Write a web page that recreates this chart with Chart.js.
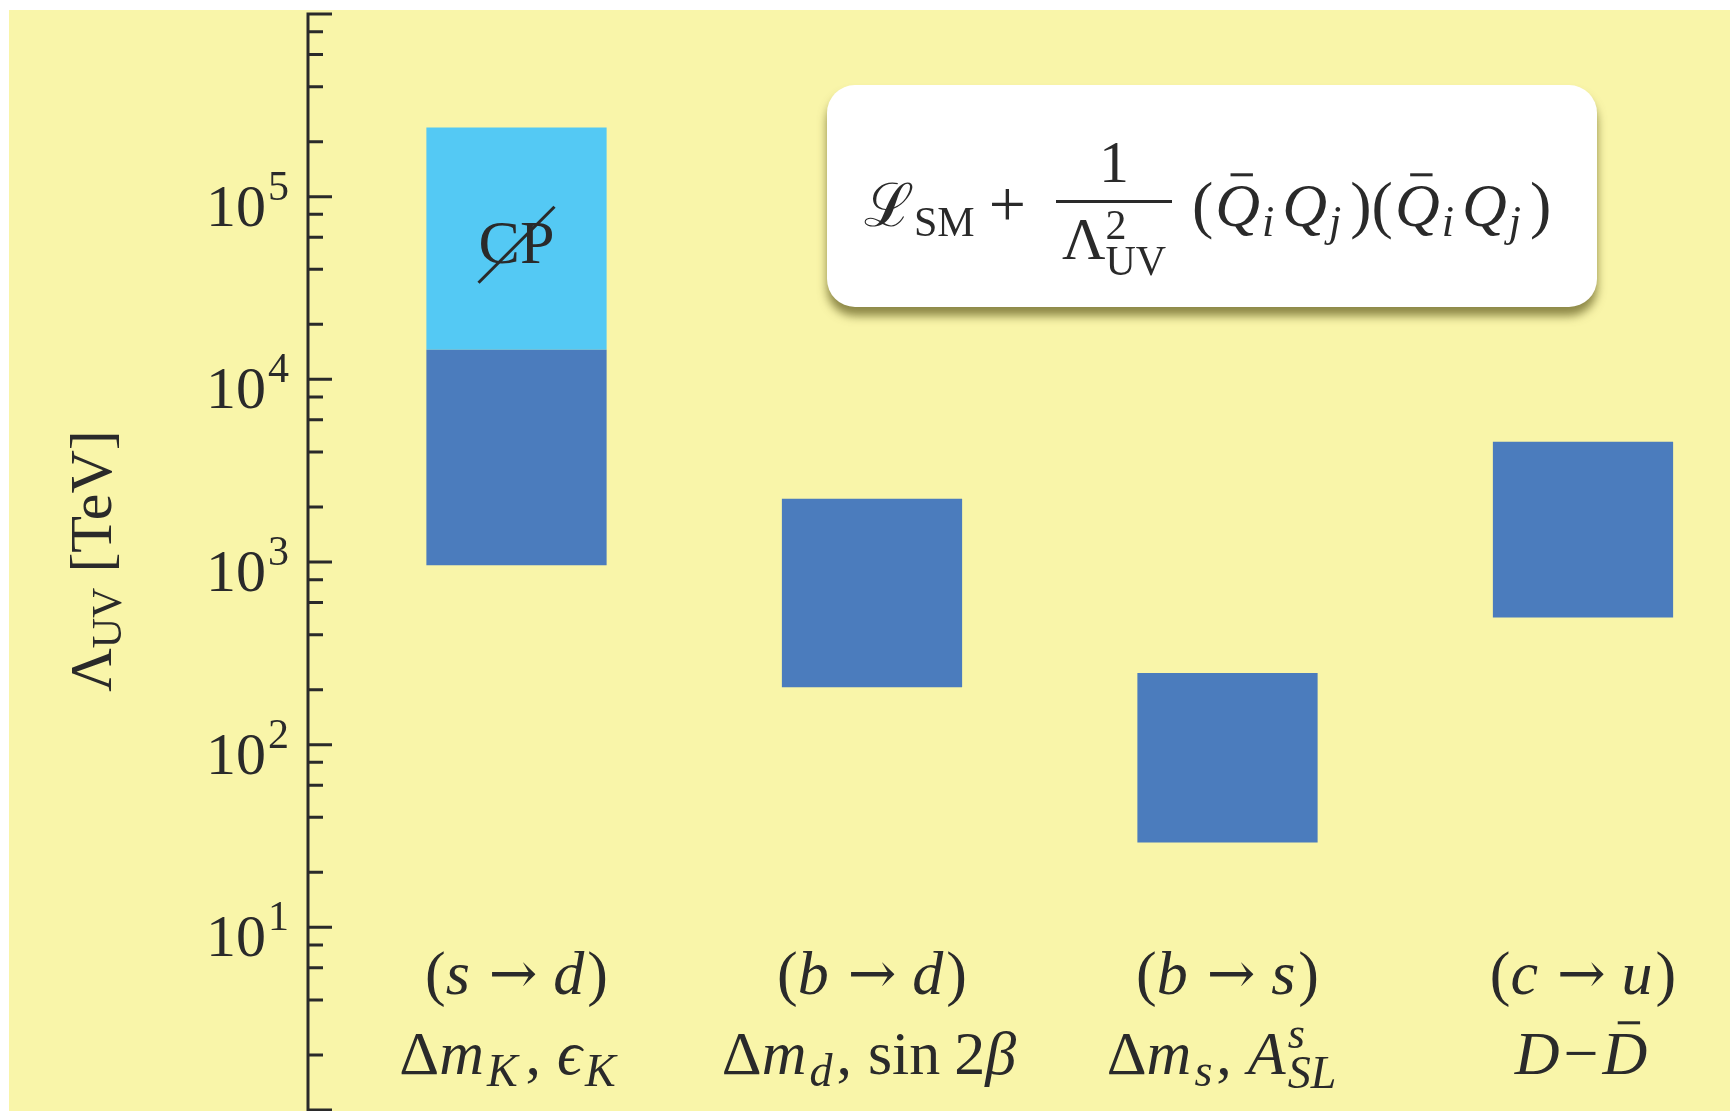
<!DOCTYPE html>
<html>
<head>
<meta charset="utf-8">
<script src="https://cdn.jsdelivr.net/npm/chart.js@4.4.0/dist/chart.umd.min.js"></script>
<style>
  html, body { margin: 0; padding: 0; background: #fff; }
  canvas { display: block; }
</style>
</head>
<body>
<canvas id="myChart" width="1730" height="1111"></canvas>
<script>

// one column per quark transition
const positions = [1, 2, 3, 4];
const fromQuark = ['s', 'b', 'b', 'c'];
const toQuark = ['d', 'd', 's', 'u'];

// bounds on Lambda_UV in TeV (floating bars)
const boundLow = [960, 206, 29.1, 497];
const boundHigh = [14500, 2220, 247, 4550];
// extra reach with CP violation (only s -> d)
const cpLow = [14500, null, null, null];
const cpHigh = [239000, null, null, null];

// y axis
const decades = [1, 10, 100, 1000, 10000, 100000, 1000000];
const labeledExponents = [1, 2, 3, 4, 5];
const minorSteps = [2, 4, 6, 8];

const ink = '#2a2a2a';
const serif = '"Liberation Serif", "DejaVu Serif", serif';

const r = (t, s = 62, dy = 0, extra = {}) => Object.assign({ t, s, it: false, dy }, extra);
const it = (t, s = 62, dy = 0, extra = {}) => Object.assign({ t, s, it: true, dy }, extra);
const fontOf = p => (p.it ? 'italic ' : '') + p.s + 'px ' + (p.fam ? '"' + p.fam + '"' : serif);
const arrow = () => ({ t: '\u2192', s: 58, it: false, dy: -1, fam: 'DejaVu Serif', pad: 16, kern: 16 });

// second line under every column
const observables = [
  [r('\u0394'), it('m', 62, 0, { kern: 3 }), it('K', 46, 12, { kern: 8 }), r(',', 62, 0, { kern: 16 }), it('\u03f5', 62, 0, { kern: 3 }), it('K', 46, 12, { kern: 18 })],
  [r('\u0394'), it('m', 62, 0, { kern: 3 }), it('d', 46, 12, { kern: 4 }), r(',', 62, 0, { kern: 16 }), r('sin', 62, 0, { kern: 14 }), r('2'), it('\u03b2', 62, 0, { kern: 6 })],
  [r('\u0394'), it('m', 62, 0, { kern: 3 }), it('s', 46, 12, { kern: 4 }), r(',', 62, 0, { kern: 16 }), it('A', 62, 0, { kern: 2 }), { stack: [it('s', 44, -26), it('SL', 46, 14, { kern: 12 })] }],
  [it('D', 62, 0, { kern: 4 }), r('\u2212', 62, 0, { kern: 4 }), it('D', 62, 0, { over: true, kern: 4 })]
];

function measure(ctx, parts) {
  let w = 0;
  for (const p of parts) {
    if (p.stack) {
      let m = 0;
      for (const s of p.stack) { ctx.font = fontOf(s); m = Math.max(m, ctx.measureText(s.t).width + (s.kern || 0)); }
      p._w = m;
    } else {
      ctx.font = fontOf(p);
      p._w = ctx.measureText(p.t).width + (p.kern || 0) + (p.pad || 0);
    }
    w += p._w;
  }
  return w;
}

function drawRich(ctx, parts, x, y, align) {
  const w = measure(ctx, parts);
  let cx = align === 'center' ? x - w / 2 : x;
  ctx.textAlign = 'left';
  ctx.textBaseline = 'alphabetic';
  for (const p of parts) {
    if (p.stack) {
      for (const s of p.stack) { ctx.font = fontOf(s); ctx.fillText(s.t, cx, y + s.dy); }
    } else {
      ctx.font = fontOf(p);
      const tx = cx + (p.pad || 0);
      ctx.fillText(p.t, tx, y + p.dy);
      if (p.over) {
        const gw = p._w - (p.kern || 0);
        ctx.fillRect(tx + gw * 0.34, y + p.dy - p.s * 0.85, gw * 0.5, 3);
      }
    }
    cx += p._w;
  }
  return w;
}

const backdrop = {
  id: 'backdrop',
  beforeDraw(chart) {
    const ctx = chart.ctx;
    ctx.save();
    ctx.fillStyle = '#fff';
    ctx.fillRect(0, 0, chart.width, chart.height);
    ctx.fillStyle = '#f9f5a9';
    ctx.fillRect(9, 10, chart.width - 9, chart.height - 10);
    ctx.restore();
  }
};

const decorations = {
  id: 'decorations',
  afterDatasetsDraw(chart) {
    const ctx = chart.ctx;
    const xs = chart.scales.x;
    const ys = chart.scales.y;
    const x0 = chart.chartArea.left;
    ctx.save();
    ctx.strokeStyle = ink;
    ctx.fillStyle = ink;
    ctx.lineWidth = 3;

    // axis line and inward ticks
    ctx.beginPath();
    ctx.moveTo(x0, ys.getPixelForValue(decades[decades.length - 1]) - 1.5);
    ctx.lineTo(x0, chart.height);
    decades.forEach(d => {
      const y = ys.getPixelForValue(d);
      ctx.moveTo(x0, y); ctx.lineTo(x0 + 24, y);
    });
    decades.slice(0, -1).forEach(d => {
      minorSteps.forEach(m => {
        const y = ys.getPixelForValue(d * m);
        ctx.moveTo(x0, y); ctx.lineTo(x0 + 15, y);
      });
    });
    ctx.stroke();

    // tick labels 10^n
    labeledExponents.forEach(e => {
      const y = ys.getPixelForValue(Math.pow(10, e));
      ctx.font = '60px ' + serif;
      ctx.textAlign = 'right';
      ctx.textBaseline = 'alphabetic';
      ctx.fillText('10', 266, y + 29);
      ctx.font = '42px ' + serif;
      ctx.textAlign = 'left';
      ctx.fillText(String(e), 268, y + 3);
    });

    // axis title
    ctx.save();
    ctx.translate(111, 561);
    ctx.rotate(-Math.PI / 2);
    drawRich(ctx, [r('\u039b', 60), r('UV', 42, 10), r(' [TeV]', 60)], 0, 0, 'center');
    ctx.restore();

    // column labels
    positions.forEach((p, i) => {
      const cx = xs.getPixelForValue(p);
      drawRich(ctx, [r('('), it(fromQuark[i], 62, 0, { kern: 3 }), arrow(), it(toQuark[i], 62, 0, { kern: 3 }), r(')')], cx, 994, 'center');
      drawRich(ctx, observables[i], cx, 1074, 'center');
    });

    // CP-violation tag in the light block
    const cpx = xs.getPixelForValue(positions[0]);
    const cpy = ys.getPixelForValue(Math.sqrt(cpLow[0] * cpHigh[0]));
    ctx.font = '62px ' + serif;
    ctx.textAlign = 'center';
    ctx.fillText('CP', cpx, cpy + 24);
    ctx.lineWidth = 3;
    ctx.beginPath();
    ctx.moveTo(cpx - 38, cpy + 44);
    ctx.lineTo(cpx + 38, cpy - 32);
    ctx.stroke();

    // formula box
    ctx.save();
    ctx.shadowColor = 'rgba(95, 90, 30, 0.7)';
    ctx.shadowBlur = 10;
    ctx.shadowOffsetY = 9;
    ctx.fillStyle = '#fff';
    ctx.beginPath();
    ctx.roundRect(827, 85, 770, 222, 28);
    ctx.fill();
    ctx.restore();

    ctx.fillStyle = ink;
    drawRich(ctx, [r('\u2112', 60), r('SM', 42, 10, { kern: 14 }), r('+', 66)], 864, 226, 'left');
    // fraction 1 / Lambda_UV^2
    ctx.font = '60px ' + serif;
    ctx.textAlign = 'center';
    ctx.fillText('1', 1114, 182);
    ctx.fillRect(1056, 200, 116, 3);
    drawRich(ctx, [r('\u039b', 60), { stack: [r('2', 42, -20), r('UV', 42, 16)] }], 1114, 259, 'center');
    const group = () => [
      r('(', 64, 0, { kern: 2 }), it('Q', 62, 0, { over: true, kern: 2 }), it('i', 44, 10, { kern: 8 }),
      it('Q', 62, 0, { kern: 2 }), it('j', 44, 10, { kern: 9 }), r(')', 64)
    ];
    drawRich(ctx, group().concat(group()), 1192, 226, 'left');

    ctx.restore();
  }
};

const ctx = document.getElementById('myChart');
const config = {
  type: 'bar',
  data: {
    datasets: [
      {
        label: 'bound',
        data: positions.map((x, i) => ({ x, y: [boundLow[i], boundHigh[i]] })),
        backgroundColor: '#4b7cbd',
        grouped: false,
        barPercentage: 0.507,
        categoryPercentage: 1
      },
      {
        label: 'CP',
        data: positions.map((x, i) => cpLow[i] === null ? null : { x, y: [cpLow[i], cpHigh[i]] }).filter(Boolean),
        backgroundColor: '#54c9f4',
        grouped: false,
        barPercentage: 0.507,
        categoryPercentage: 1
      }
    ]
  },
  options: {
    responsive: false,
    animation: false,
    layout: { padding: { left: 308, top: 14, right: 0, bottom: 1 } },
    scales: {
      x: {
        type: 'linear', display: false, offset: false, min: 0.4135, max: 4.4135,
        afterBuildTicks: scale => { scale.ticks = positions.map(v => ({ value: v })); }
      },
      y: { type: 'logarithmic', display: false, min: 1, max: 1000000 }
    },
    plugins: {
      legend: { display: false },
      tooltip: { enabled: false }
    }
  },
  plugins: [backdrop, decorations]
};

new Chart(ctx, config);
</script>
</body>
</html>
